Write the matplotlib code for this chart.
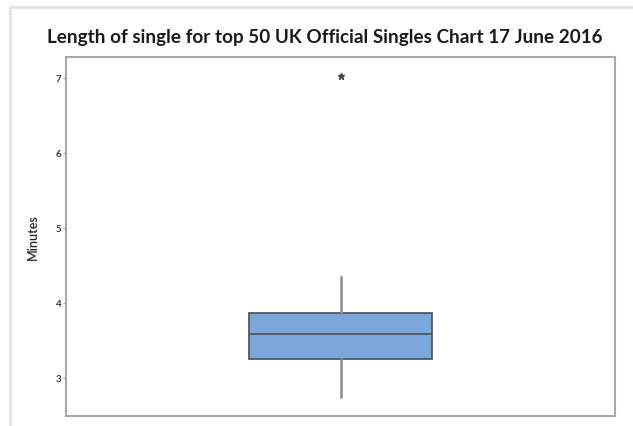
import matplotlib
matplotlib.use("Agg")
import matplotlib.pyplot as plt
from matplotlib.patches import Rectangle

# single boxplot summary (minutes)
q1 = 3.25
median = 3.59
q3 = 3.87
whisker_low = 2.75
whisker_high = 4.35
outliers = [7.02]
yticks = [3, 4, 5, 6, 7]

W, H = 633, 427
fig = plt.figure(figsize=(W / 100, H / 100), dpi=100)
fig.patch.set_facecolor("white")

# light frame around the graph window
fig.patches.append(Rectangle((10 / W, -0.1), 1.2, 1.1 - 8 / H, transform=fig.transFigure,
                             fill=False, edgecolor="#e2e2e2", linewidth=2))

ax = fig.add_axes([66 / W, 1 - 417 / H, (615 - 66) / W, (417 - 58) / H])

stats = [{"q1": q1, "med": median, "q3": q3,
          "whislo": whisker_low, "whishi": whisker_high, "fliers": outliers}]
ax.bxp(stats, positions=[0.5], widths=0.333, patch_artist=True, showcaps=False,
       boxprops=dict(facecolor="#7ba7db", edgecolor="#4f5862", linewidth=1.3),
       medianprops=dict(color="#4f5862", linewidth=1.3),
       whiskerprops=dict(color="#8c8c8c", linewidth=1.8),
       flierprops=dict(marker="*", markersize=5, markerfacecolor="#444444",
                       markeredgecolor="#444444"))

ax.set_xlim(0, 1)
ax.set_ylim(2.49, 7.28)
ax.set_xticks([])
ax.set_yticks(yticks)
ax.set_yticklabels([str(t) for t in yticks], fontsize=7, fontweight="bold", color="#333333",
                   family="Lato")
ax.tick_params(axis="y", length=2, width=0.8, color="#999999", pad=1.5)
for sp in ax.spines.values():
    sp.set_color("#a8a8a8")
    sp.set_linewidth(1.5)

ax.set_ylabel("Minutes", fontsize=9, fontweight="semibold", family="Lato", color="#222222",
              labelpad=12)
fig.text(325 / W, 1 - 37 / H,
         "Length of single for top 50 UK Official Singles Chart 17 June 2016",
         ha="center", va="center", fontsize=13.6, fontweight="bold", family="Lato",
         color="#1a1a1a")

fig.savefig("out.png", dpi=100)
